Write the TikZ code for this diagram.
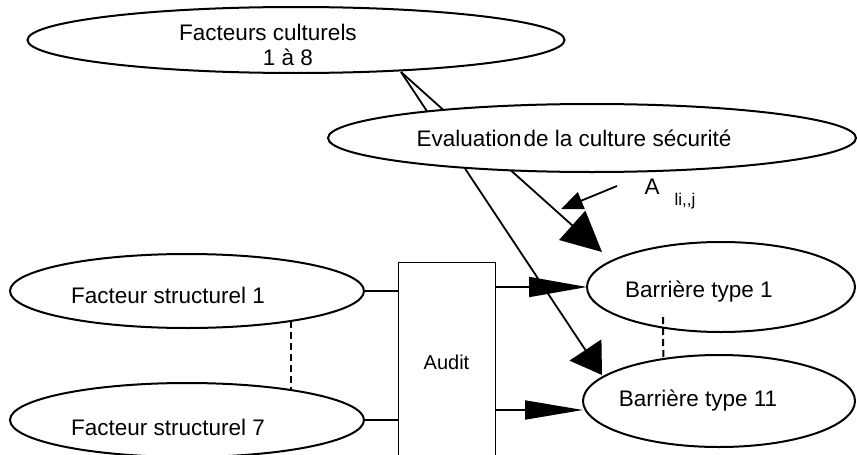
\documentclass[tikz,border=0pt]{standalone}
\usepackage{fontspec}
\setmainfont{Liberation Sans}
\usetikzlibrary{arrows.meta,shapes.geometric}

\tikzset{
  oval/.style={draw, ellipse, fill=white, inner sep=0pt, outer sep=0pt, line width=1pt},
  lbl/.style={font=\fontsize{11.25}{13.5}\selectfont, inner sep=0pt, anchor=base},
  wire/.style={line width=0.9pt},
  dashwire/.style={line width=1pt, dash pattern=on 3.5pt off 2pt},
}

\begin{document}
\begin{tikzpicture}[x=0.5pt, y=-0.5pt]

\useasboundingbox (0,0) rectangle (857,455);
\clip (0,0) rectangle (857,455);

% free ends of the connectors
\coordinate (fc-out) at (401,72);
\coordinate (b1-top) at (602,252);
\coordinate (b11-top) at (602,375);
\coordinate (a-from) at (617,186);
\coordinate (a-to) at (561,209);
\coordinate (b-dash) at (663,317);
\coordinate (b11-in) at (583,410);

% culture lines, behind the evaluation oval
\draw[wire, -{Triangle[length=20pt, width=19.5pt]}] (fc-out) -- (b1-top);
\draw[wire, -{Triangle[length=15pt, width=19pt]}] (fc-out) -- (b11-top);

\node[oval, minimum width=268.5pt, minimum height=33pt] (fc) at (296,40) {};
\node[lbl] (fc-t1) at (268,40) {Facteurs culturels};
\node[lbl] (fc-t2) at (288,65) {1 à 8};

\node[oval, minimum width=264pt, minimum height=34pt] (eval) at (592,138) {};
\node[lbl] (eval-t) at (574,146) {Evaluation\kern1pt de la culture sécurité};

\node[oval, minimum width=177pt, minimum height=37pt] (fs1) at (187,291) {};
\node[lbl] (fs1-t) at (168,303) {Facteur structurel 1};
\node[oval, minimum width=177pt, minimum height=37pt] (fs7) at (187,420) {};
\node[lbl] (fs7-t) at (168,435) {Facteur structurel 7};

\node[oval, minimum width=134pt, minimum height=45pt] (b1) at (721,287) {};
\node[lbl] (b1-t) at (699,297) {Barrière type 1};
\node[oval, minimum width=136pt, minimum height=46pt] (b11) at (719,401) {};
\node[lbl] (b11-t) at (698,406) {Barrière type 11};

\node[draw, line width=0.5pt, inner sep=0pt, minimum width=48.5pt, minimum height=100pt] (audit) at (446.5,362) {};
\node[lbl, font=\fontsize{10}{12}\selectfont] (audit-t) at (446.5,369) {Audit};

\node[lbl] (a-lbl) at (652,194) {A};
\node[lbl, font=\fontsize{8.5}{10}\selectfont] (a-sub) at (685,205) {li,{},j};

\draw[wire, -{Triangle[length=11pt, width=9pt]}] (a-from) -- (a-to);

% structural factors through the audit
\draw[wire] (fs1.east) -- (fs1.east -| audit.west);
\draw[wire] (fs7.east) -- (fs7.east -| audit.west);
\draw[wire, -{Triangle[length=29pt, width=10pt]}] (audit.east |- b1.west) -- (b1.west);
\draw[wire, -{Triangle[length=29pt, width=9.5pt]}] (audit.east |- b11-in) -- (b11-in);

\draw[dashwire] (fs1.-16) -- (fs7.16);
\draw[dashwire] (b-dash) -- (b11.143);

\end{tikzpicture}
\end{document}
